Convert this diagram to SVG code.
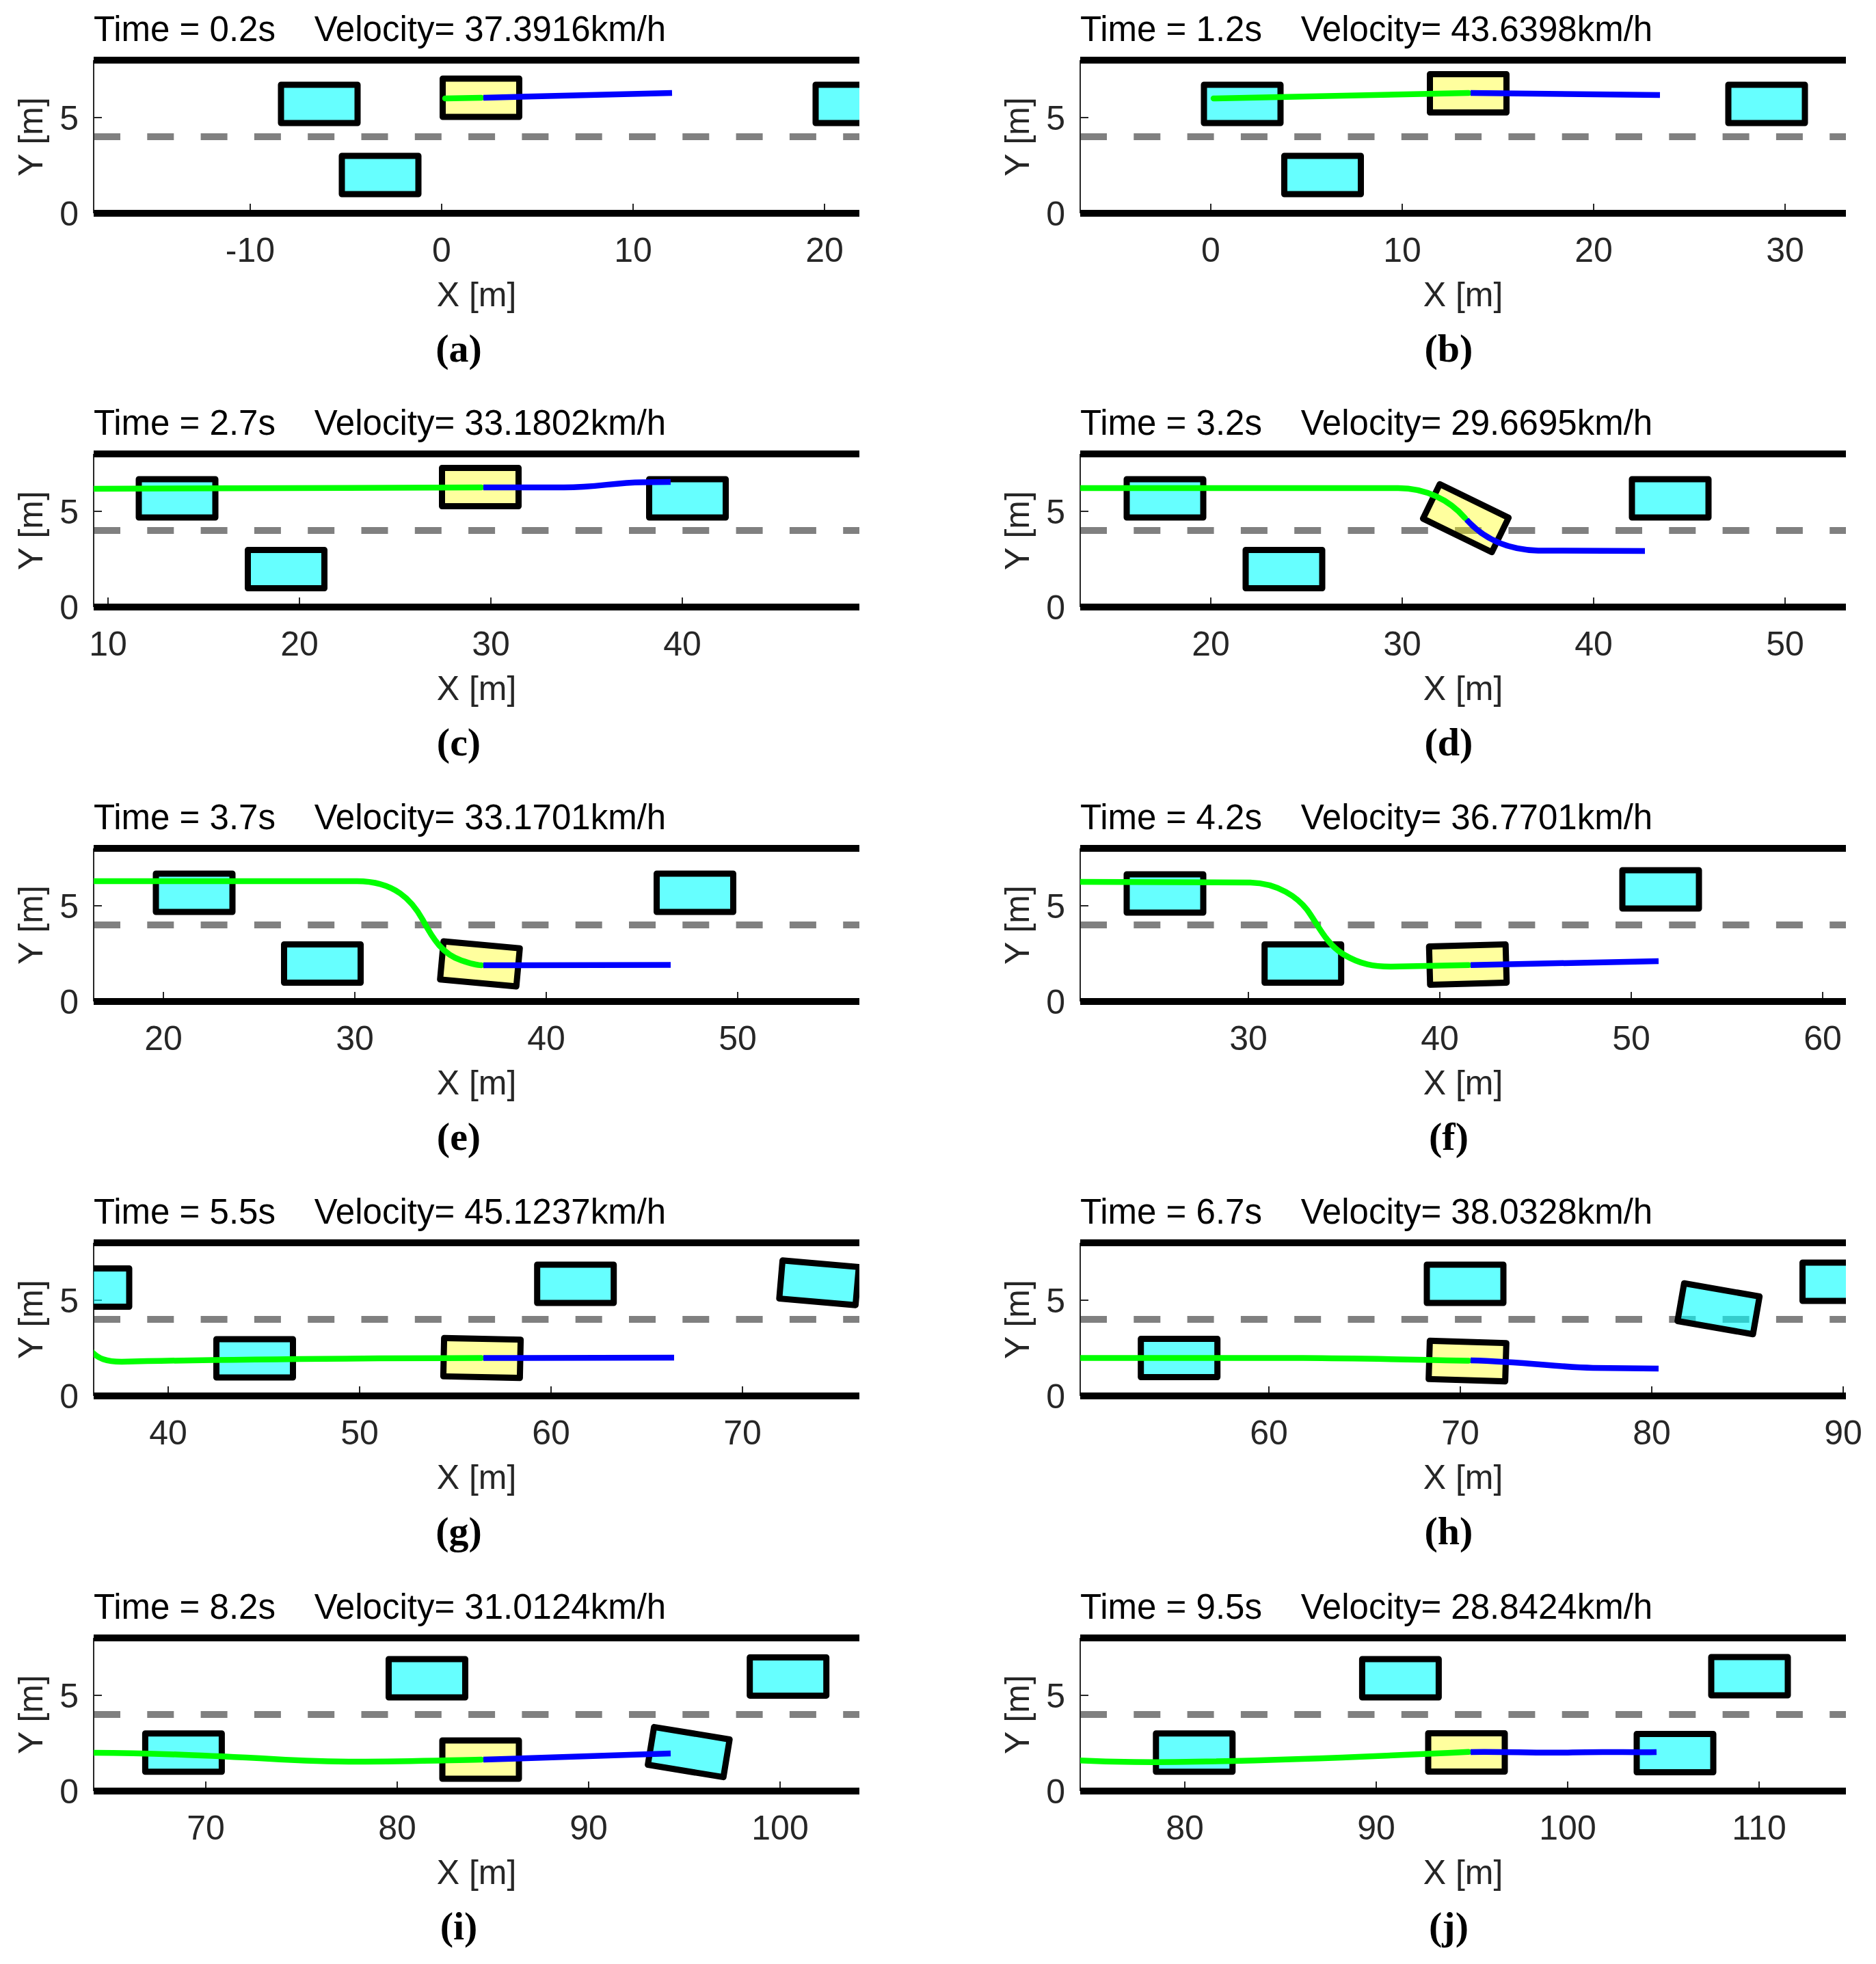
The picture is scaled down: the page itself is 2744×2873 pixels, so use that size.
<svg xmlns="http://www.w3.org/2000/svg" width="2744" height="2873" viewBox="0 0 2744 2873">
<style>
.bg{fill:#fff}
.road{stroke:#000;stroke-width:10;fill:none}
.lane{stroke:#808080;stroke-width:10;stroke-dasharray:39 39.3;fill:none}
.ax{stroke:#262626;stroke-width:2;fill:none}
.car{stroke:#000;stroke-width:9;stroke-linejoin:round}
.obs{fill:#00ffff;fill-opacity:0.6}
.ego{fill:#ffff00;fill-opacity:0.38}
.past{stroke:#00ff00;stroke-width:8.5;fill:none;stroke-linecap:round;stroke-linejoin:round}
.plan{stroke:#0000ff;stroke-width:8.5;fill:none;stroke-linejoin:round}
.title{font-family:"Liberation Sans",Arial,sans-serif;font-size:51px;fill:#000;white-space:pre}
.tk{font-family:"Liberation Sans",Arial,sans-serif;font-size:50px;fill:#262626;text-anchor:middle}
.tky{font-family:"Liberation Sans",Arial,sans-serif;font-size:50px;fill:#262626;text-anchor:end}
.axl{font-family:"Liberation Sans",Arial,sans-serif;font-size:50px;fill:#262626;text-anchor:middle}
.lbl{font-family:"Liberation Serif","Times New Roman",serif;font-weight:bold;font-size:58px;fill:#000;text-anchor:middle}
</style>
<defs>
<rect id="car" x="-56" y="-28" width="112" height="56"/>
<clipPath id="clipL" clipPathUnits="userSpaceOnUse"><rect x="137" y="0" width="1120" height="600"/></clipPath>
<clipPath id="clipR" clipPathUnits="userSpaceOnUse"><rect x="1580" y="0" width="1120" height="600"/></clipPath>
</defs>
<rect class="bg" x="0" y="0" width="2744" height="2873"/>

<!-- (a) -->
<g id="panel-a">
<text class="title" x="137" y="60" xml:space="preserve">Time = 0.2s    Velocity= 37.3916km/h</text>
<line class="lane" x1="137" y1="200" x2="1257" y2="200"/>
<path class="ax" d="M137,88V312M366,298V312M646,298V312M926,298V312M1206,298V312M137,172H149"/>
<path class="road" d="M137,88H1257M137,312H1257"/>
<text class="tk" x="366" y="383">-10</text><text class="tk" x="646" y="383">0</text><text class="tk" x="926" y="383">10</text><text class="tk" x="1206" y="383">20</text>
<text class="tky" x="115" y="190">5</text><text class="tky" x="115" y="330">0</text>
<text class="axl" x="697" y="448">X [m]</text>
<text class="axl" transform="translate(62,200) rotate(-90)">Y [m]</text>
<g id="a-cars" clip-path="url(#clipL)">
<use id="a-obs1" href="#car" class="car obs" transform="translate(467,152)"/>
<use id="a-obs2" href="#car" class="car obs" transform="translate(556,256)"/>
<use id="a-obs3" href="#car" class="car obs" transform="translate(1249,152)"/>
<use id="a-ego" href="#car" class="car ego" transform="translate(703.5,143)"/>
</g>
<g id="a-paths" clip-path="url(#clipL)">
<path class="past" d="M651,144L704,143"/>
<path class="plan" d="M707,143L983,136"/>
</g>
<text class="lbl" x="671" y="529">(a)</text>
</g>

<!-- (b) -->
<g id="panel-b">
<text class="title" x="1580" y="60" xml:space="preserve">Time = 1.2s    Velocity= 43.6398km/h</text>
<line class="lane" x1="1580" y1="200" x2="2700" y2="200"/>
<path class="ax" d="M1580,88V312M1771,298V312M2051,298V312M2331,298V312M2611,298V312M1580,172H1592"/>
<path class="road" d="M1580,88H2700M1580,312H2700"/>
<text class="tk" x="1771" y="383">0</text><text class="tk" x="2051" y="383">10</text><text class="tk" x="2331" y="383">20</text><text class="tk" x="2611" y="383">30</text>
<text class="tky" x="1558" y="190">5</text><text class="tky" x="1558" y="330">0</text>
<text class="axl" x="2140" y="448">X [m]</text>
<text class="axl" transform="translate(1505,200) rotate(-90)">Y [m]</text>
<g id="b-cars" clip-path="url(#clipR)">
<use id="b-obs1" href="#car" class="car obs" transform="translate(1817,152)"/>
<use id="b-obs2" href="#car" class="car obs" transform="translate(1934.5,256)"/>
<use id="b-obs3" href="#car" class="car obs" transform="translate(2584,152)"/>
<use id="b-ego" href="#car" class="car ego" transform="translate(2147.5,136.5)"/>
</g>
<g id="b-paths" clip-path="url(#clipR)">
<path class="past" d="M1775,144L2148,136"/>
<path class="plan" d="M2151,136L2428,139"/>
</g>
<text class="lbl" x="2119" y="529">(b)</text>
</g>

<!-- (c) -->
<g id="panel-c" transform="translate(0,576)">
<text class="title" x="137" y="60" xml:space="preserve">Time = 2.7s    Velocity= 33.1802km/h</text>
<line class="lane" x1="137" y1="200" x2="1257" y2="200"/>
<path class="ax" d="M137,88V312M158,298V312M438,298V312M718,298V312M998,298V312M137,172H149"/>
<path class="road" d="M137,88H1257M137,312H1257"/>
<text class="tk" x="158" y="383">10</text><text class="tk" x="438" y="383">20</text><text class="tk" x="718" y="383">30</text><text class="tk" x="998" y="383">40</text>
<text class="tky" x="115" y="190">5</text><text class="tky" x="115" y="330">0</text>
<text class="axl" x="697" y="448">X [m]</text>
<text class="axl" transform="translate(62,200) rotate(-90)">Y [m]</text>
<g id="c-cars" clip-path="url(#clipL)">
<use id="c-obs1" href="#car" class="car obs" transform="translate(259,153)"/>
<use id="c-obs2" href="#car" class="car obs" transform="translate(418.5,256.5)"/>
<use id="c-obs3" href="#car" class="car obs" transform="translate(1005.5,153)"/>
<use id="c-ego" href="#car" class="car ego" transform="translate(702.5,136.5)"/>
</g>
<g id="c-paths" clip-path="url(#clipL)">
<path class="past" d="M130,139L704,137"/>
<path class="plan" d="M707,137L825,137C875,137 895,130 940,129.5L981,129"/>
</g>
<text class="lbl" x="671" y="529">(c)</text>
</g>

<!-- (d) -->
<g id="panel-d" transform="translate(0,576)">
<text class="title" x="1580" y="60" xml:space="preserve">Time = 3.2s    Velocity= 29.6695km/h</text>
<line class="lane" x1="1580" y1="200" x2="2700" y2="200"/>
<path class="ax" d="M1580,88V312M1771,298V312M2051,298V312M2331,298V312M2611,298V312M1580,172H1592"/>
<path class="road" d="M1580,88H2700M1580,312H2700"/>
<text class="tk" x="1771" y="383">20</text><text class="tk" x="2051" y="383">30</text><text class="tk" x="2331" y="383">40</text><text class="tk" x="2611" y="383">50</text>
<text class="tky" x="1558" y="190">5</text><text class="tky" x="1558" y="330">0</text>
<text class="axl" x="2140" y="448">X [m]</text>
<text class="axl" transform="translate(1505,200) rotate(-90)">Y [m]</text>
<g id="d-cars" clip-path="url(#clipR)">
<use id="d-obs1" href="#car" class="car obs" transform="translate(1704,153)"/>
<use id="d-obs2" href="#car" class="car obs" transform="translate(1878,256.5)"/>
<use id="d-obs3" href="#car" class="car obs" transform="translate(2443,153)"/>
<use id="d-ego" href="#car" class="car ego" transform="translate(2144,182) rotate(26)"/>
</g>
<g id="d-paths" clip-path="url(#clipR)">
<path class="past" d="M1573,138L2045,138C2085,138 2120,155 2143,182"/>
<path class="plan" d="M2145,184C2168,210 2200,228 2250,229.5L2406,230"/>
</g>
<text class="lbl" x="2119" y="529">(d)</text>
</g>

<!-- (e) -->
<g id="panel-e" transform="translate(0,1153)">
<text class="title" x="137" y="60" xml:space="preserve">Time = 3.7s    Velocity= 33.1701km/h</text>
<line class="lane" x1="137" y1="200" x2="1257" y2="200"/>
<path class="ax" d="M137,88V312M239,298V312M519,298V312M799,298V312M1079,298V312M137,172H149"/>
<path class="road" d="M137,88H1257M137,312H1257"/>
<text class="tk" x="239" y="383">20</text><text class="tk" x="519" y="383">30</text><text class="tk" x="799" y="383">40</text><text class="tk" x="1079" y="383">50</text>
<text class="tky" x="115" y="190">5</text><text class="tky" x="115" y="330">0</text>
<text class="axl" x="697" y="448">X [m]</text>
<text class="axl" transform="translate(62,200) rotate(-90)">Y [m]</text>
<g id="e-cars" clip-path="url(#clipL)">
<use id="e-obs1" href="#car" class="car obs" transform="translate(284,153)"/>
<use id="e-obs2" href="#car" class="car obs" transform="translate(471.5,256.5)"/>
<use id="e-obs3" href="#car" class="car obs" transform="translate(1016.5,153)"/>
<use id="e-ego" href="#car" class="car ego" transform="translate(702,257) rotate(5.2)"/>
</g>
<g id="e-paths" clip-path="url(#clipL)">
<path class="past" d="M130,136L522,136C578,136 603,165 618,192C634,222 648,243 675,252C690,257 698,259 704,259"/>
<path class="plan" d="M707,259L981,258.5"/>
</g>
<text class="lbl" x="671" y="529">(e)</text>
</g>

<!-- (f) -->
<g id="panel-f" transform="translate(0,1153)">
<text class="title" x="1580" y="60" xml:space="preserve">Time = 4.2s    Velocity= 36.7701km/h</text>
<line class="lane" x1="1580" y1="200" x2="2700" y2="200"/>
<path class="ax" d="M1580,88V312M1826,298V312M2106,298V312M2386,298V312M2666,298V312M1580,172H1592"/>
<path class="road" d="M1580,88H2700M1580,312H2700"/>
<text class="tk" x="1826" y="383">30</text><text class="tk" x="2106" y="383">40</text><text class="tk" x="2386" y="383">50</text><text class="tk" x="2666" y="383">60</text>
<text class="tky" x="1558" y="190">5</text><text class="tky" x="1558" y="330">0</text>
<text class="axl" x="2140" y="448">X [m]</text>
<text class="axl" transform="translate(1505,200) rotate(-90)">Y [m]</text>
<g id="f-cars" clip-path="url(#clipR)">
<use id="f-obs1" href="#car" class="car obs" transform="translate(1704,154)"/>
<use id="f-obs2" href="#car" class="car obs" transform="translate(1905.7,256.5)"/>
<use id="f-obs3" href="#car" class="car obs" transform="translate(2429,148)"/>
<use id="f-ego" href="#car" class="car ego" transform="translate(2147,258) rotate(-1.6)"/>
</g>
<g id="f-paths" clip-path="url(#clipR)">
<path class="past" d="M1573,137L1829,138C1870,139 1898,160 1912,178C1928,200 1940,228 1965,243C1990,258 2010,261 2035,261L2148,258.7"/>
<path class="plan" d="M2151,258.7L2426,253"/>
</g>
<text class="lbl" x="2119" y="529">(f)</text>
</g>

<!-- (g) -->
<g id="panel-g" transform="translate(0,1730)">
<text class="title" x="137" y="60" xml:space="preserve">Time = 5.5s    Velocity= 45.1237km/h</text>
<line class="lane" x1="137" y1="200" x2="1257" y2="200"/>
<path class="ax" d="M137,88V312M246,298V312M526,298V312M806,298V312M1086,298V312M137,172H149"/>
<path class="road" d="M137,88H1257M137,312H1257"/>
<text class="tk" x="246" y="383">40</text><text class="tk" x="526" y="383">50</text><text class="tk" x="806" y="383">60</text><text class="tk" x="1086" y="383">70</text>
<text class="tky" x="115" y="190">5</text><text class="tky" x="115" y="330">0</text>
<text class="axl" x="697" y="448">X [m]</text>
<text class="axl" transform="translate(62,200) rotate(-90)">Y [m]</text>
<g id="g-cars" clip-path="url(#clipL)">
<use id="g-obs1" href="#car" class="car obs" transform="translate(133,153.5)"/>
<use id="g-obs2" href="#car" class="car obs" transform="translate(372.5,257)"/>
<use id="g-obs3" href="#car" class="car obs" transform="translate(841.7,148)"/>
<use id="g-obs4" href="#car" class="car obs" transform="translate(1198,146.5) rotate(4.9)"/>
<use id="g-ego" href="#car" class="car ego" transform="translate(705,256.5) rotate(1.2)"/>
</g>
<g id="g-paths" clip-path="url(#clipL)">
<path class="past" d="M134,247C143,257 155,262 178,262C300,259 500,257 704,256.5"/>
<path class="plan" d="M707,256.5L986,256"/>
</g>
<text class="lbl" x="671" y="529">(g)</text>
</g>

<!-- (h) -->
<g id="panel-h" transform="translate(0,1730)">
<text class="title" x="1580" y="60" xml:space="preserve">Time = 6.7s    Velocity= 38.0328km/h</text>
<line class="lane" x1="1580" y1="200" x2="2700" y2="200"/>
<path class="ax" d="M1580,88V312M1856,298V312M2136,298V312M2416,298V312M2696,298V312M1580,172H1592"/>
<path class="road" d="M1580,88H2700M1580,312H2700"/>
<text class="tk" x="1856" y="383">60</text><text class="tk" x="2136" y="383">70</text><text class="tk" x="2416" y="383">80</text><text class="tk" x="2696" y="383">90</text>
<text class="tky" x="1558" y="190">5</text><text class="tky" x="1558" y="330">0</text>
<text class="axl" x="2140" y="448">X [m]</text>
<text class="axl" transform="translate(1505,200) rotate(-90)">Y [m]</text>
<g id="h-cars" clip-path="url(#clipR)">
<use id="h-obs1" href="#car" class="car obs" transform="translate(1724.7,256.5)"/>
<use id="h-obs2" href="#car" class="car obs" transform="translate(2143,148)"/>
<use id="h-obs3" href="#car" class="car obs" transform="translate(2513.7,184.5) rotate(9.9)"/>
<use id="h-obs4" href="#car" class="car obs" transform="translate(2692.5,145)"/>
<use id="h-ego" href="#car" class="car ego" transform="translate(2146.5,261) rotate(1.7)"/>
</g>
<g id="h-paths" clip-path="url(#clipR)">
<path class="past" d="M1573,256.5L1906,256.5C1990,257 2080,259 2148,260.5"/>
<path class="plan" d="M2151,260C2230,262 2280,270 2330,271L2426,272"/>
</g>
<text class="lbl" x="2119" y="529">(h)</text>
</g>

<!-- (i) -->
<g id="panel-i" transform="translate(0,2308)">
<text class="title" x="137" y="60" xml:space="preserve">Time = 8.2s    Velocity= 31.0124km/h</text>
<line class="lane" x1="137" y1="200" x2="1257" y2="200"/>
<path class="ax" d="M137,88V312M301,298V312M581,298V312M861,298V312M1141,298V312M137,172H149"/>
<path class="road" d="M137,88H1257M137,312H1257"/>
<text class="tk" x="301" y="383">70</text><text class="tk" x="581" y="383">80</text><text class="tk" x="861" y="383">90</text><text class="tk" x="1141" y="383">100</text>
<text class="tky" x="115" y="190">5</text><text class="tky" x="115" y="330">0</text>
<text class="axl" x="697" y="448">X [m]</text>
<text class="axl" transform="translate(62,200) rotate(-90)">Y [m]</text>
<g id="i-cars" clip-path="url(#clipL)">
<use id="i-obs1" href="#car" class="car obs" transform="translate(268.4,255.8)"/>
<use id="i-obs2" href="#car" class="car obs" transform="translate(624.5,147)"/>
<use id="i-obs3" href="#car" class="car obs" transform="translate(1152.7,144.4)"/>
<use id="i-obs4" href="#car" class="car obs" transform="translate(1007.4,255) rotate(9.3)"/>
<use id="i-ego" href="#car" class="car ego" transform="translate(703,266)"/>
</g>
<g id="i-paths" clip-path="url(#clipL)">
<path class="past" d="M130,256C220,256 300,260 380,264C440,268 480,269 520,269C600,269 650,267 704,266"/>
<path class="plan" d="M707,266L981,257"/>
</g>
<text class="lbl" x="671" y="529">(i)</text>
</g>

<!-- (j) -->
<g id="panel-j" transform="translate(0,2308)">
<text class="title" x="1580" y="60" xml:space="preserve">Time = 9.5s    Velocity= 28.8424km/h</text>
<line class="lane" x1="1580" y1="200" x2="2700" y2="200"/>
<path class="ax" d="M1580,88V312M1733,298V312M2013,298V312M2293,298V312M2573,298V312M1580,172H1592"/>
<path class="road" d="M1580,88H2700M1580,312H2700"/>
<text class="tk" x="1733" y="383">80</text><text class="tk" x="2013" y="383">90</text><text class="tk" x="2293" y="383">100</text><text class="tk" x="2573" y="383">110</text>
<text class="tky" x="1558" y="190">5</text><text class="tky" x="1558" y="330">0</text>
<text class="axl" x="2140" y="448">X [m]</text>
<text class="axl" transform="translate(1505,200) rotate(-90)">Y [m]</text>
<g id="j-cars" clip-path="url(#clipR)">
<use id="j-obs1" href="#car" class="car obs" transform="translate(1746.8,255.8)"/>
<use id="j-obs2" href="#car" class="car obs" transform="translate(2048.4,147)"/>
<use id="j-obs3" href="#car" class="car obs" transform="translate(2450,256.5)"/>
<use id="j-obs4" href="#car" class="car obs" transform="translate(2559,144)"/>
<use id="j-ego" href="#car" class="car ego" transform="translate(2145,255.5)"/>
</g>
<g id="j-paths" clip-path="url(#clipR)">
<path class="past" d="M1573,267C1620,269.5 1660,270 1720,269.5C1850,268 2000,262 2148,254.8"/>
<path class="plan" d="M2151,255C2200,254 2250,257 2300,255.5C2350,254 2390,256 2423,255"/>
</g>
<text class="lbl" x="2119" y="529">(j)</text>
</g>
</svg>
